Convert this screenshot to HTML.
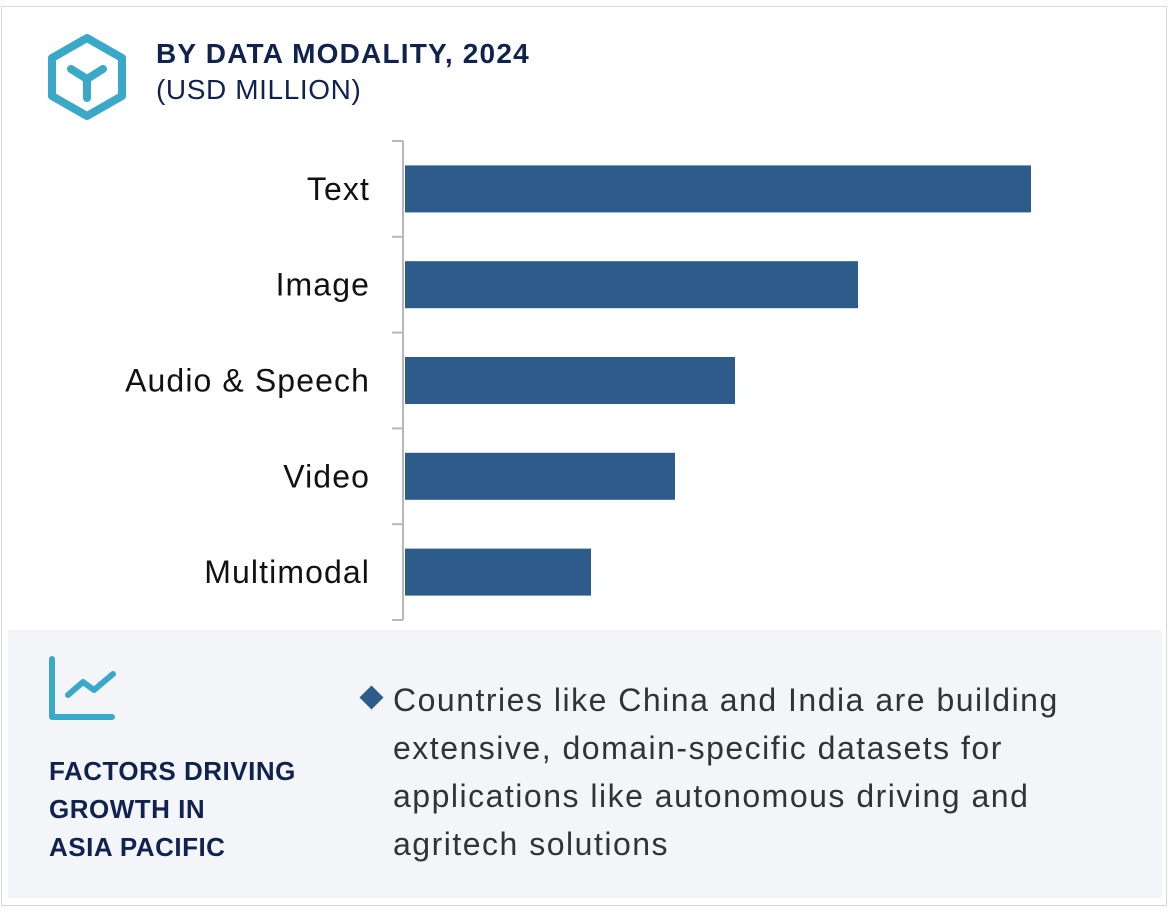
<!DOCTYPE html>
<html><head><meta charset="utf-8"><style>
body{margin:0;width:1170px;height:909px;background:#fff;font-family:"Liberation Sans",sans-serif;position:relative;overflow:hidden}
.frame{position:absolute;left:1px;top:6px;width:1166px;height:900px;border:1px solid #d8d8dc;box-sizing:border-box}
.t1{position:absolute;left:156px;top:38px;font-size:28px;font-weight:bold;color:#10234f;letter-spacing:1.2px}
.t2{position:absolute;left:156px;top:74px;font-size:28px;color:#10234f;letter-spacing:0.6px}
.panel{position:absolute;left:8px;top:630px;width:1154px;height:268px;background:#f3f5f9}
.ft{position:absolute;left:49px;top:752px;font-size:26px;font-weight:bold;color:#10234f;line-height:38px;letter-spacing:0.5px}
.bt{position:absolute;left:393px;top:676px;font-size:32px;color:#333;line-height:48px;letter-spacing:1.5px}
.dia{position:absolute;left:363px;top:689px;width:17px;height:17px;background:#2d5c8a;transform:rotate(45deg)}
</style></head><body>
<div class="frame"></div>
<svg style="position:absolute;left:46px;top:32px" width="82" height="90">
<polygon points="41,6 76,26 76,64 41,84 6,64 6,26" fill="none" stroke="#3aa8c8" stroke-width="8" stroke-linejoin="round"/>
<path d="M25,37 L41,47 L57,37 M41,47 L41,66" fill="none" stroke="#3aa8c8" stroke-width="8" stroke-linecap="round"/>
</svg>
<div class="t1">BY DATA MODALITY, 2024</div>
<div class="t2">(USD MILLION)</div>
<svg id="chart" style="position:absolute;left:0;top:0" width="1170" height="630"></svg>
<div class="panel"></div>
<svg style="position:absolute;left:46px;top:654px" width="72" height="70">
<path d="M6,5 L6,63 L66,63" fill="none" stroke="#3aa8c8" stroke-width="6" stroke-linecap="round" stroke-linejoin="round"/>
<path d="M22,41 L37,28 L48,36 L67,20" fill="none" stroke="#3aa8c8" stroke-width="6" stroke-linecap="round" stroke-linejoin="round"/>
</svg>
<div class="ft">FACTORS DRIVING<br>GROWTH IN<br>ASIA PACIFIC</div>
<div class="dia"></div>
<div class="bt">Countries like China and India are building<br>extensive, domain-specific datasets for<br>applications like autonomous driving and<br>agritech solutions</div>
<script>
const categories=["Text","Image","Audio & Speech","Video","Multimodal"];
const values=[626,453,330,270,186];
const svg=document.getElementById('chart');
const NS='http://www.w3.org/2000/svg';
const x0=405,top0=141,band=95.8,maxV=626,maxW=626;
const xs=v=>x0+v/maxV*maxW;
function mk(t,a){const e=document.createElementNS(NS,t);for(const k in a)e.setAttribute(k,a[k]);svg.appendChild(e);return e;}
let ax=mk('line',{x1:403,x2:403,y1:top0,y2:top0+band*5,stroke:'#b8b8b8','stroke-width':2});


for(let i=0;i<=5;i++){const t=mk('line',{x1:392,x2:403,y1:top0+band*i,y2:top0+band*i,stroke:'#b8b8b8','stroke-width':2});

}
categories.forEach((c,i)=>{const yc=top0+band*i+band/2;
const r=mk('rect',{x:x0,y:yc-23.5,width:xs(values[i])-x0,height:47,fill:'#2d5c8a'});


const tx=mk('text',{x:370,y:yc+11,'text-anchor':'end','font-size':32,fill:'#111','letter-spacing':'1.1','font-family':'Liberation Sans, sans-serif'});
tx.textContent=c;

});
</script>
</body></html>
